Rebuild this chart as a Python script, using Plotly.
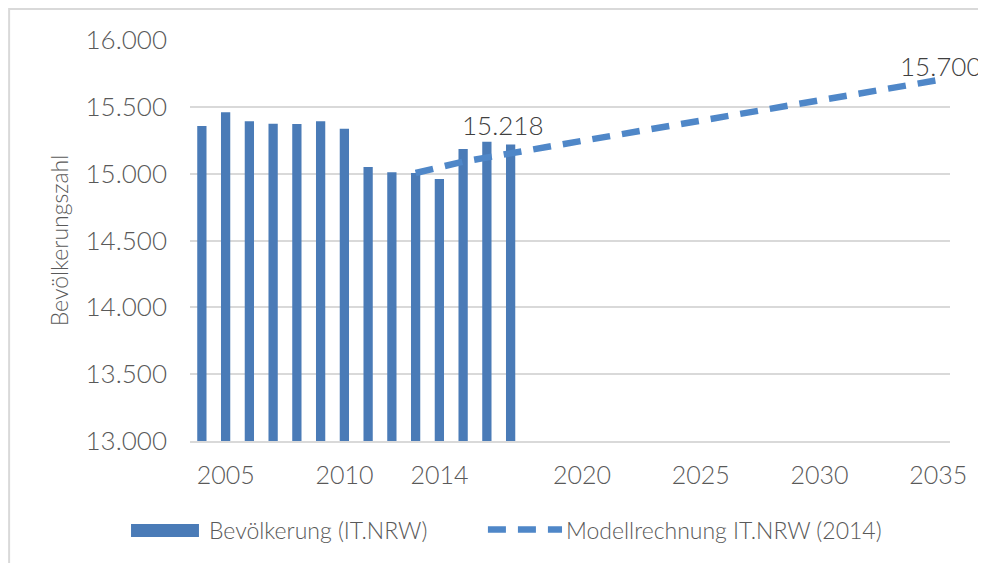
import plotly.graph_objects as go

# ---- data ----
bar_years = [2004, 2005, 2006, 2007, 2008, 2009, 2010, 2011, 2012, 2013, 2014, 2015, 2016, 2017]
bar_values = [15357, 15459, 15392, 15374, 15372, 15392, 15336, 15050, 15010, 15005, 14960, 15184, 15239, 15218]
model_years = [2013, 2015, 2020, 2025, 2030, 2035]
model_values = [15005, 15090, 15245, 15400, 15550, 15700]
x_tick_vals = [2005, 2010, 2014, 2020, 2025, 2030, 2035]
y_tick_vals = [13000, 13500, 14000, 14500, 15000, 15500, 16000]
bar_name = "Bevölkerung (IT.NRW)"
model_name = "Modellrechnung IT.NRW (2014)"
y_title = "Bevölkerungszahl"

BAR_C = "#4a7bb7"
LINE_C = "#4f87c8"
TXT = "#595959"
GRID = "#d9d9d9"
FONT = "Lato"


def de(n):
    return f"{n:,}".replace(",", ".")


fig = go.Figure()
fig.add_trace(go.Bar(x=bar_years, y=bar_values, name=bar_name,
                     marker=dict(color=BAR_C, line=dict(width=0)),
                     showlegend=False))
fig.add_trace(go.Scatter(x=model_years, y=model_values, name=model_name,
                         mode="lines", line=dict(color=LINE_C, width=6.5, dash="18px,12px"),
                         showlegend=False))

# data labels
fig.add_annotation(x=bar_years[-1], y=bar_values[-1], text=de(bar_values[-1]),
                   showarrow=False, yanchor="middle", xshift=-8, yshift=20,
                   font=dict(family=FONT, size=26, color="#404040", weight=300))
fig.add_annotation(x=model_years[-1], y=model_values[-1], text=de(model_values[-1]),
                   showarrow=False, yanchor="middle", xanchor="right", xshift=45, yshift=14,
                   font=dict(family=FONT, size=26, color="#404040", weight=300))

# outer frame (chart area border)
fig.add_shape(type="path", xref="paper", yref="paper",
              path="M -0.238 -0.4 L -0.238 1.0773 L 1.2 1.0773",
              line=dict(color=GRID, width=2))

# custom legend
fig.add_shape(type="rect", xref="paper", yref="paper",
              x0=-0.0776, x1=0.0118, y0=-0.2394, y1=-0.207,
              fillcolor=BAR_C, line=dict(width=0))
fig.add_annotation(xref="paper", yref="paper", x=0.0224, y=-0.2207, text=bar_name,
                   showarrow=False, xanchor="left", yanchor="middle",
                   font=dict(family=FONT, size=23, color=TXT, weight=300))
fig.add_shape(type="line", xref="paper", yref="paper",
              x0=0.392, x1=0.4895, y0=-0.2207, y1=-0.2207,
              line=dict(color=LINE_C, width=6.5, dash="18px,12px"))
fig.add_annotation(xref="paper", yref="paper", x=0.4921, y=-0.2207, text=model_name,
                   showarrow=False, xanchor="left", yanchor="middle",
                   font=dict(family=FONT, size=23, color=TXT, weight=300))

fig.update_layout(
    width=986, height=563,
    margin=dict(l=182, r=44, t=32, b=130),
    paper_bgcolor="white", plot_bgcolor="white",
    separators=",.",
    bargap=0.61,
    font=dict(family=FONT, color=TXT),
    xaxis=dict(range=[2003.5, 2035.5], tickmode="array", tickvals=x_tick_vals,
               ticktext=[str(v) for v in x_tick_vals],
               showgrid=False, showline=True, linecolor=GRID, linewidth=2,
               ticks="", ticklabelstandoff=11, zeroline=False,
               tickfont=dict(family=FONT, size=25, color=TXT, weight=300)),
    yaxis=dict(range=[13000, 16000], tickmode="array", tickvals=y_tick_vals,
               ticktext=[de(v) for v in y_tick_vals],
               showgrid=True, gridcolor=GRID, gridwidth=2, zeroline=False,
               showline=False, ticks="", ticklabelstandoff=22,
               tickfont=dict(family=FONT, size=26, color=TXT, weight=300),
               title=dict(text=y_title, standoff=10,
                          font=dict(family=FONT, size=23, color=TXT, weight=300))),
)

fig.write_html("out.html")
